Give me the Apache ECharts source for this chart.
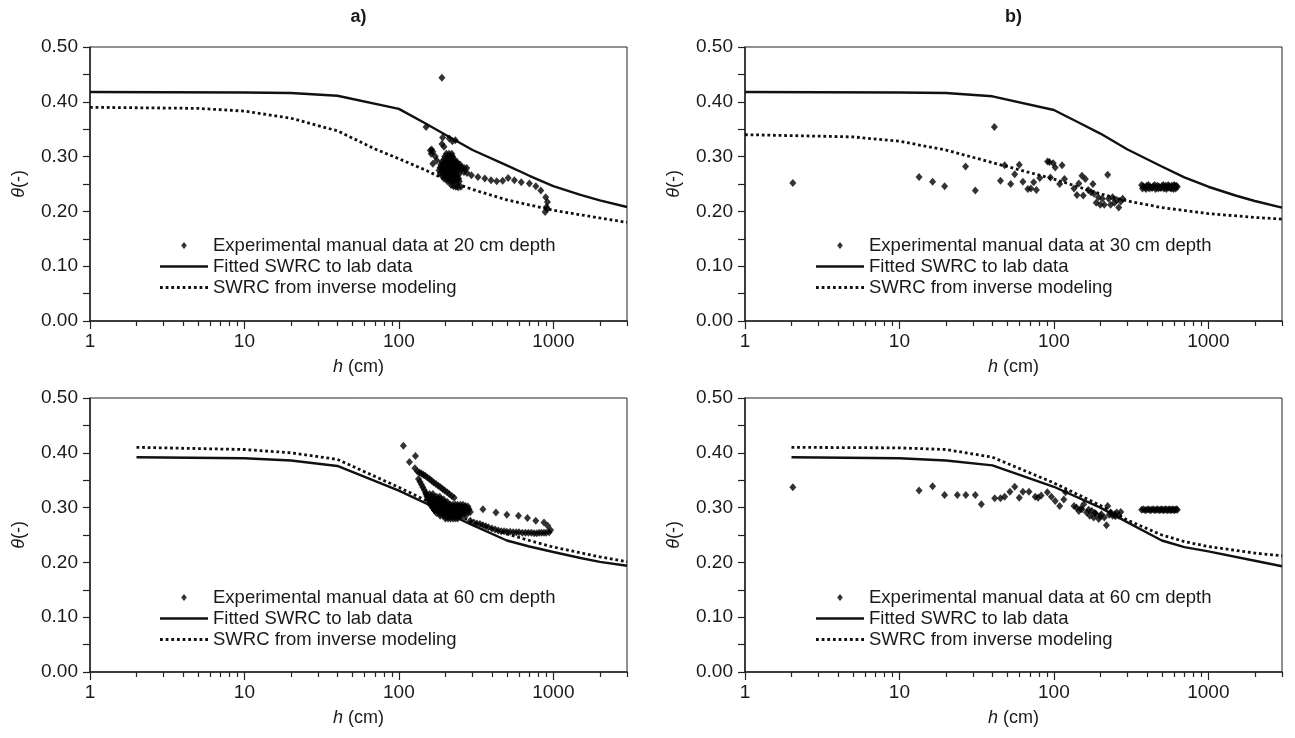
<!DOCTYPE html>
<html><head><meta charset="utf-8">
<script src="https://cdn.jsdelivr.net/npm/echarts@6/dist/echarts.min.js"></script>
<style>html,body{margin:0;padding:0;background:#fff}#c{width:1295px;height:738px}</style>
</head><body><div id="c"></div>
<script>
// ---------- DATA ----------
const panelTitles = ['a)', 'b)', '', ''];
const xMajorTicks = [1, 10, 100, 1000];
const xMinorTicks = [2,3,4,5,6,7,8,9,20,30,40,50,60,70,80,90,200,300,400,500,600,700,800,900,2000,3000];
const scatterNames = ['Experimental manual data at 20 cm depth','Experimental manual data at 30 cm depth','Experimental manual data at 60 cm depth','Experimental manual data at 60 cm depth'];
const fitName = 'Fitted SWRC to lab data';
const invName = 'SWRC from inverse modeling';

// Panel a
const aFitH  = [1, 10, 20, 40, 100, 150, 200, 300, 500, 700, 1000, 1500, 2000, 3000];
const aFitT  = [0.418, 0.417, 0.416, 0.411, 0.387, 0.360, 0.340, 0.312, 0.284, 0.265, 0.246, 0.230, 0.220, 0.208];
const aInvH  = [1, 5, 10, 20, 40, 70, 100, 150, 200, 300, 500, 1000, 2000, 3000];
const aInvT  = [0.390, 0.388, 0.383, 0.370, 0.347, 0.314, 0.296, 0.275, 0.258, 0.240, 0.221, 0.202, 0.188, 0.180];
const aObsH = [190,150,160,163,166,162,192,212,232,222,190,196,172,176,166,
  203,211,220,198,206,215,223,196,204,212,220,228,236,190,198,206,214,222,230,238,
  187,195,203,211,219,227,235,243,250,185,193,201,209,217,225,233,243,255,265,275,
  182,190,198,206,214,222,230,240,252,264,276,185,193,201,209,217,225,233,245,
  190,198,206,214,222,230,238,196,204,212,220,228,236,244,206,214,222,230,238,246,218,226,234,242,252,
  295,325,360,395,430,470,510,560,620,700,771,830,893,916,902,885,916];
const aObsT = [0.444,0.354,0.311,0.313,0.309,0.305,0.335,0.333,0.330,0.328,0.323,0.318,0.300,0.293,0.287,
  0.305,0.305,0.305,0.300,0.300,0.300,0.300,0.295,0.295,0.295,0.295,0.295,0.290,0.290,0.290,0.290,0.290,0.290,0.290,0.290,
  0.285,0.285,0.285,0.285,0.285,0.285,0.285,0.285,0.285,0.280,0.280,0.280,0.280,0.280,0.280,0.280,0.280,0.280,0.279,0.279,
  0.275,0.275,0.275,0.275,0.275,0.275,0.275,0.275,0.275,0.272,0.270,0.270,0.270,0.270,0.270,0.270,0.270,0.270,0.268,
  0.265,0.265,0.265,0.265,0.265,0.265,0.265,0.260,0.260,0.260,0.260,0.260,0.260,0.260,0.255,0.255,0.255,0.255,0.255,0.255,0.248,0.246,0.245,0.244,0.245,
  0.266,0.263,0.260,0.257,0.255,0.256,0.261,0.257,0.253,0.251,0.246,0.238,0.226,0.217,0.208,0.199,0.205];

// Panel b
const bFitH  = [1, 10, 20, 40, 100, 150, 200, 300, 500, 700, 1000, 1500, 2000, 3000];
const bFitT  = [0.418, 0.417, 0.416, 0.410, 0.385, 0.360, 0.342, 0.313, 0.282, 0.262, 0.245, 0.229, 0.219, 0.207];
const bInvH  = [1, 5, 10, 20, 40, 100, 200, 300, 500, 1000, 2000, 3000];
const bInvT  = [0.340, 0.336, 0.328, 0.312, 0.289, 0.259, 0.232, 0.219, 0.207, 0.196, 0.189, 0.186];
const bObsH = [2.04,13.4,16.4,19.6,26.8,31,41.2,45.1,48,52.5,55.8,59.7,63,67.8,71,74,77,81,91,93.5,95,99,102,109,113,117,135,141,145,152,155,160,167,174,179,182,188,194,200,206,212,223,226,233,240,247,255,263,271,279,
  370,380,390,400,410,420,430,440,450,460,470,480,490,500,510,520,530,540,550,560,570,580,590,600,610,620,630,375,395,415,435,455,475,495,515,535,555,575,595,615];
const bObsT = [0.252,0.263,0.254,0.246,0.282,0.238,0.354,0.256,0.284,0.250,0.268,0.285,0.254,0.241,0.242,0.253,0.239,0.261,0.291,0.290,0.262,0.288,0.280,0.250,0.284,0.259,0.242,0.230,0.251,0.265,0.229,0.259,0.239,0.235,0.250,0.232,0.216,0.226,0.212,0.223,0.212,0.267,0.223,0.212,0.226,0.216,0.221,0.207,0.218,0.223,
  0.248,0.246,0.244,0.247,0.248,0.245,0.243,0.246,0.248,0.244,0.247,0.245,0.243,0.246,0.248,0.245,0.247,0.244,0.248,0.246,0.243,0.247,0.245,0.248,0.246,0.247,0.245,0.242,0.241,0.242,0.243,0.241,0.242,0.243,0.242,0.241,0.243,0.242,0.241,0.242];

// Panel c
const cFitH  = [2, 10, 20, 40, 100, 200, 300, 500, 700, 1000, 1500, 2000, 3000];
const cFitT  = [0.392, 0.390, 0.386, 0.376, 0.331, 0.291, 0.268, 0.240, 0.229, 0.219, 0.208, 0.201, 0.194];
const cInvH  = [2, 10, 20, 40, 100, 200, 300, 500, 700, 1000, 2000, 3000];
const cInvT  = [0.410, 0.406, 0.400, 0.388, 0.337, 0.296, 0.274, 0.252, 0.240, 0.228, 0.210, 0.201];
const cObsH = [107,128,117,127,
  132,136,140,144,148,153,158,163,168,174,180,186,192,198,205,212,220,228,
  134,137,140,143,146,149,152,155,158,161,164,167,170,
  150,158,166,152,160,168,176,184,155,163,171,179,187,195,158,166,174,182,190,198,206,
  160,168,176,184,192,200,208,216,224,232,240,250,260,270,280,
  165,173,181,189,197,205,213,221,229,237,245,255,265,275,285,
  170,178,186,194,202,210,218,226,234,242,250,260,270,280,290,
  175,183,191,199,207,215,223,231,239,247,256,266,276,
  185,193,201,209,217,225,233,241,250,260,200,208,216,224,232,240,
  350,425,500,595,680,770,870,920,960,940,900,
  870,840,810,780,750,720,690,660,630,600,575,550,525,500,480,460,440,420,400,380,365,350,335,320,305,290];
const cObsT = [0.413,0.394,0.383,0.372,
  0.366,0.364,0.362,0.360,0.358,0.355,0.352,0.349,0.346,0.343,0.340,0.337,0.334,0.331,0.328,0.325,0.321,0.318,
  0.352,0.347,0.342,0.337,0.332,0.327,0.322,0.317,0.312,0.307,0.303,0.299,0.295,
  0.325,0.325,0.325,0.320,0.320,0.320,0.320,0.320,0.315,0.315,0.315,0.315,0.315,0.315,0.310,0.310,0.310,0.310,0.310,0.310,0.310,
  0.305,0.305,0.305,0.305,0.305,0.305,0.305,0.305,0.305,0.305,0.305,0.305,0.305,0.303,0.302,
  0.300,0.300,0.300,0.300,0.300,0.300,0.300,0.300,0.300,0.300,0.300,0.300,0.300,0.298,0.297,
  0.295,0.295,0.295,0.295,0.295,0.295,0.295,0.295,0.295,0.295,0.295,0.295,0.295,0.293,0.292,
  0.290,0.290,0.290,0.290,0.290,0.290,0.290,0.290,0.290,0.290,0.290,0.290,0.288,
  0.285,0.285,0.285,0.285,0.285,0.285,0.285,0.285,0.285,0.284,0.280,0.280,0.280,0.280,0.280,0.280,
  0.297,0.291,0.287,0.285,0.281,0.276,0.273,0.267,0.259,0.255,0.254,
  0.254,0.254,0.254,0.253,0.253,0.254,0.254,0.254,0.254,0.255,0.255,0.255,0.256,0.256,0.257,0.257,0.258,0.260,0.262,0.264,0.266,0.268,0.270,0.271,0.273,0.276];

// Panel d
const dFitH  = [2, 10, 20, 40, 100, 200, 300, 500, 700, 1000, 2000, 3000];
const dFitT  = [0.392, 0.390, 0.386, 0.377, 0.338, 0.300, 0.273, 0.240, 0.228, 0.220, 0.203, 0.193];
const dInvH  = [2, 10, 20, 40, 100, 200, 300, 500, 700, 1000, 2000, 3000];
const dInvT  = [0.410, 0.409, 0.406, 0.392, 0.345, 0.304, 0.277, 0.250, 0.238, 0.229, 0.217, 0.212];
const dObsH = [2.04,13.4,16.4,19.6,23.7,26.9,31,33.9,41.4,45.1,48,51.9,55.8,59.7,63,69,75.7,79,82.8,90.7,96.4,102,109,116,119,
  135,145,149,156,163,171,176,181,187,195,203,212,219,223,233,240,247,255,263,271,140,152,168,184,200,228,250,
  370,380,390,400,410,420,430,440,450,460,470,480,490,500,510,520,530,540,550,560,570,580,590,600,610,620,630];
const dObsT = [0.337,0.331,0.339,0.323,0.323,0.323,0.323,0.306,0.317,0.317,0.320,0.329,0.338,0.318,0.329,0.329,0.320,0.318,0.322,0.328,0.320,0.312,0.303,0.315,0.328,
  0.303,0.294,0.298,0.306,0.291,0.285,0.294,0.282,0.289,0.279,0.288,0.282,0.268,0.303,0.291,0.285,0.288,0.291,0.285,0.292,0.300,0.297,0.296,0.290,0.284,0.287,0.284,
  0.296,0.297,0.295,0.296,0.297,0.295,0.296,0.297,0.295,0.296,0.297,0.295,0.296,0.297,0.295,0.296,0.297,0.295,0.296,0.297,0.295,0.296,0.297,0.295,0.296,0.297,0.296];

// ---------- CHART ----------
const FONT = "'Liberation Sans', Arial, sans-serif";
const TXT = '#1a1a1a';
const zip = (a, b) => a.map((v, i) => [v, b[i]]);
const panels = [
  {fitH:aFitH, fitT:aFitT, invH:aInvH, invT:aInvT, obsH:aObsH, obsT:aObsT, left:90,  top:47,  legLeft:160, legTop:236},
  {fitH:bFitH, fitT:bFitT, invH:bInvH, invT:bInvT, obsH:bObsH, obsT:bObsT, left:745, top:47,  legLeft:816, legTop:236},
  {fitH:cFitH, fitT:cFitT, invH:cInvH, invT:cInvT, obsH:cObsH, obsT:cObsT, left:90,  top:398, legLeft:160, legTop:588},
  {fitH:dFitH, fitT:dFitT, invH:dInvH, invT:dInvT, obsH:dObsH, obsT:dObsT, left:745, top:398, legLeft:816, legTop:588}
];
const GW = 537, GH = 274;
let dotted = '';
for (let i = 0; i < 9; i++) dotted += 'M' + (i*5.5) + ',0h2.7v2.7h-2.7z';
const ICON_DOT = 'path://M0,-1L0.8,0L0,1L-0.8,0Z';
const ICON_SOLID = 'path://M0,0h48v2.4h-48z';
const ICON_DOTTED = 'path://' + dotted;

const grid = [], xAxis = [], yAxis = [], series = [], legend = [], graphic = [];
panels.forEach((p, i) => {
  grid.push({left:p.left, top:p.top, width:GW, height:GH, show:true, borderColor:'#222', borderWidth:1, backgroundColor:'transparent'});
  xAxis.push({
    gridIndex:i, type:'log', logBase:10, min:1, max:3000, position:'bottom',
    axisLine:{show:true, lineStyle:{color:'#222', width:1.5}},
    axisTick:{show:true, inside:false, length:8, customValues:xMajorTicks, lineStyle:{color:'#222', width:1.2}},
    axisLabel:{customValues:xMajorTicks, formatter:v=>String(Math.round(v)), fontSize:19, color:TXT, fontFamily:FONT, margin:11},
    splitLine:{show:false},
    name:'{i|h} (cm)', nameLocation:'middle', nameGap:37,
    nameTextStyle:{fontSize:18, color:TXT, fontFamily:FONT, rich:{i:{fontStyle:'italic', fontSize:18, color:TXT, fontFamily:FONT}}}
  });
  xAxis.push({
    gridIndex:i, type:'log', logBase:10, min:1, max:3000, position:'bottom',
    axisLine:{show:false}, axisLabel:{show:false}, splitLine:{show:false},
    axisTick:{show:true, length:5, customValues:xMinorTicks, lineStyle:{color:'#222', width:1.2}}
  });
  yAxis.push({
    gridIndex:i, type:'value', min:0, max:0.5, interval:0.1,
    axisLine:{show:true, lineStyle:{color:'#222', width:1.5}},
    axisTick:{show:true, length:7, lineStyle:{color:'#222', width:1.2}},
    minorTick:{show:true, splitNumber:2, length:7, lineStyle:{color:'#222', width:1.2}},
    splitLine:{show:false}, minorSplitLine:{show:false},
    axisLabel:{formatter:v=>v.toFixed(2), fontSize:19, color:TXT, fontFamily:FONT, margin:12},
    name:'{i|θ}(-)', nameLocation:'middle', nameGap:62, nameRotate:90,
    nameTextStyle:{fontSize:18, color:TXT, fontFamily:FONT, rich:{i:{fontStyle:'italic', fontSize:18, color:TXT, fontFamily:FONT}}}
  });
  series.push({
    type:'scatter', name:scatterNames[i], xAxisIndex:2*i, yAxisIndex:i,
    data:zip(p.obsH, p.obsT), symbol:'diamond', symbolSize:[7,8],
    itemStyle:{color:'#000'}, z:3, silent:true
  });
  series.push({
    type:'line', name:fitName, xAxisIndex:2*i, yAxisIndex:i,
    data:zip(p.fitH, p.fitT), symbol:'none', smooth:false,
    lineStyle:{color:'#111', width:2.4, type:'solid'}, itemStyle:{color:'#111'}, z:2, silent:true
  });
  series.push({
    type:'line', name:invName, xAxisIndex:2*i, yAxisIndex:i,
    data:zip(p.invH, p.invT), symbol:'none', smooth:false,
    lineStyle:{color:'#111', width:2.8, type:[2.8, 2.8], cap:'butt'}, itemStyle:{color:'#111'}, z:2, silent:true
  });
  legend.push({
    orient:'vertical', left:p.legLeft, top:p.legTop, itemWidth:48, itemHeight:7, itemGap:2,
    selectedMode:false, padding:0,
    itemStyle:{borderWidth:0},
    textStyle:{fontSize:18.5, color:TXT, fontFamily:FONT},
    data:[{name:scatterNames[i], icon:ICON_DOT}, {name:fitName, icon:ICON_SOLID}, {name:invName, icon:ICON_DOTTED}]
  });
  if (panelTitles[i]) {
    graphic.push({type:'text', x:p.left + GW/2, y:8, silent:true,
      style:{text:panelTitles[i], textAlign:'center', fontSize:18, fontWeight:'bold', fontFamily:FONT, fill:TXT}});
  }
});

const chart = echarts.init(document.getElementById('c'), null, {renderer:'canvas'});
chart.setOption({animation:false, backgroundColor:'#fff', grid, xAxis, yAxis, series, legend, graphic});
</script>
</body></html>
